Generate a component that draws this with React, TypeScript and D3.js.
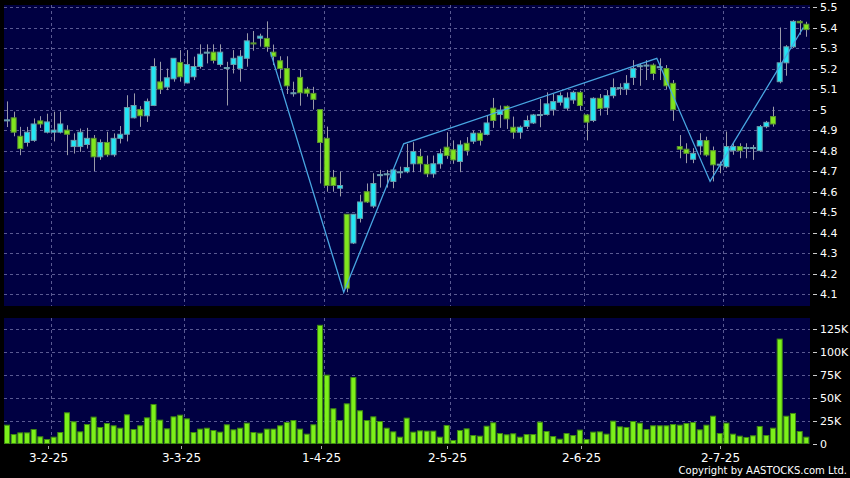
import React from "react";
import * as d3 from "d3";

// Trading days (HK) shown on the chart
const dates: string[] = [
  "2025-01-20","2025-01-21","2025-01-22","2025-01-23","2025-01-24","2025-01-27","2025-01-28",
  "2025-02-03","2025-02-04","2025-02-05","2025-02-06","2025-02-07","2025-02-10","2025-02-11","2025-02-12","2025-02-13","2025-02-14",
  "2025-02-17","2025-02-18","2025-02-19","2025-02-20","2025-02-21","2025-02-24","2025-02-25","2025-02-26","2025-02-27","2025-02-28",
  "2025-03-03","2025-03-04","2025-03-05","2025-03-06","2025-03-07","2025-03-10","2025-03-11","2025-03-12","2025-03-13","2025-03-14",
  "2025-03-17","2025-03-18","2025-03-19","2025-03-20","2025-03-21","2025-03-24","2025-03-25","2025-03-26","2025-03-27","2025-03-28","2025-03-31",
  "2025-04-01","2025-04-02","2025-04-03","2025-04-07","2025-04-08","2025-04-09","2025-04-10","2025-04-11","2025-04-14","2025-04-15","2025-04-16","2025-04-17",
  "2025-04-22","2025-04-23","2025-04-24","2025-04-25","2025-04-28","2025-04-29","2025-04-30",
  "2025-05-02","2025-05-06","2025-05-07","2025-05-08","2025-05-09","2025-05-12","2025-05-13","2025-05-14","2025-05-15","2025-05-16",
  "2025-05-19","2025-05-20","2025-05-21","2025-05-22","2025-05-23","2025-05-26","2025-05-27","2025-05-28","2025-05-29","2025-05-30",
  "2025-06-02","2025-06-03","2025-06-04","2025-06-05","2025-06-06","2025-06-09","2025-06-10","2025-06-11","2025-06-12","2025-06-13",
  "2025-06-16","2025-06-17","2025-06-18","2025-06-19","2025-06-20","2025-06-23","2025-06-24","2025-06-25","2025-06-26","2025-06-27","2025-06-30",
  "2025-07-02","2025-07-03","2025-07-04","2025-07-07","2025-07-08","2025-07-09","2025-07-10","2025-07-11","2025-07-14","2025-07-15","2025-07-16","2025-07-17","2025-07-18",
];

const open: number[] = [
  4.95,4.96,4.87,4.84,4.85,4.945,4.89,4.89,4.89,4.90,
  4.82,4.82,4.83,4.86,4.77,4.84,4.78,4.86,4.88,4.96,
  5.00,4.97,5.02,5.135,5.11,5.15,5.23,5.13,5.16,5.21,
  5.28,5.28,5.22,5.205,5.22,5.20,5.25,5.325,5.348,5.347,
  5.28,5.238,5.20,5.082,5.157,5.10,5.079,5.00,4.86,4.67,
  4.617,4.49,4.35,4.47,4.60,4.53,4.683,4.687,4.65,4.697,
  4.697,4.736,4.772,4.733,4.687,4.736,4.817,4.804,4.747,4.836,
  4.846,4.885,4.879,5.007,4.976,5.016,4.914,4.89,4.918,4.935,
  4.976,4.976,4.999,5.036,5.007,5.047,5.084,4.974,4.947,5.055,
  5.009,5.068,5.107,5.10,5.157,5.214,5.217,5.217,5.209,5.20,
  5.128,4.82,4.807,4.758,4.823,4.849,4.80,4.734,4.722,4.80,
  4.82,4.815,4.815,4.80,4.917,4.966,5.136,5.228,5.306,5.43,
  5.416,
];
const high: number[] = [
  5.04,4.99,4.916,4.916,4.957,4.968,4.98,4.99,4.99,4.924,
  4.884,4.908,4.911,4.876,4.855,4.892,4.884,4.92,5.07,5.079,
  5.017,5.054,5.25,5.233,5.20,5.25,5.29,5.29,5.258,5.318,
  5.318,5.318,5.318,5.233,5.29,5.29,5.372,5.383,5.37,5.43,
  5.317,5.26,5.26,5.136,5.193,5.111,5.111,5.00,4.917,4.706,
  4.698,4.49,4.49,4.585,4.64,4.69,4.706,4.706,4.715,4.722,
  4.833,4.841,4.809,4.776,4.776,4.809,4.89,4.85,4.85,4.866,
  4.898,4.898,4.971,5.057,5.02,5.02,4.966,4.922,4.971,4.979,
  5.052,5.084,5.076,5.084,5.084,5.092,5.092,4.979,5.06,5.076,
  5.095,5.152,5.128,5.168,5.241,5.225,5.241,5.225,5.25,5.217,
  5.144,4.876,4.836,4.812,4.885,4.868,4.82,4.747,4.893,4.836,
  4.836,4.836,4.828,4.925,4.945,5.014,5.40,5.314,5.436,5.436,
  5.428,
];
const low: number[] = [
  4.915,4.87,4.778,4.82,4.843,4.911,4.884,4.845,4.884,4.778,
  4.786,4.794,4.81,4.70,4.755,4.77,4.77,4.835,4.845,4.957,
  4.916,4.94,5.017,5.076,5.095,5.136,5.136,5.128,5.144,5.20,
  5.225,5.225,5.209,5.02,5.176,5.136,5.209,5.287,5.307,5.282,
  5.217,5.152,5.076,5.063,5.019,5.063,5.00,4.64,4.60,4.60,
  4.577,4.11,4.345,4.45,4.545,4.52,4.62,4.62,4.617,4.666,
  4.69,4.695,4.695,4.671,4.668,4.712,4.76,4.736,4.695,4.776,
  4.833,4.825,4.874,4.911,4.911,4.906,4.858,4.858,4.906,4.93,
  4.914,4.971,4.971,5.02,4.995,5.028,4.995,4.85,4.939,4.971,
  4.974,5.055,5.071,5.071,5.12,5.116,5.144,5.144,5.144,5.10,
  4.945,4.763,4.739,4.739,4.78,4.771,4.65,4.69,4.714,4.78,
  4.763,4.763,4.755,4.795,4.909,4.917,5.128,5.165,5.30,5.365,
  5.355,
];
const close: number[] = [
  4.95,4.89,4.81,4.89,4.93,4.93,4.94,4.90,4.93,4.88,
  4.85,4.89,4.86,4.77,4.84,4.78,4.86,4.88,5.01,5.02,
  4.97,5.04,5.21,5.10,5.155,5.25,5.16,5.22,5.21,5.27,
  5.28,5.24,5.28,5.205,5.25,5.26,5.335,5.32,5.358,5.306,
  5.26,5.20,5.116,5.082,5.082,5.08,5.05,4.84,4.63,4.63,
  4.63,4.13,4.49,4.55,4.55,4.64,4.683,4.687,4.706,4.697,
  4.718,4.796,4.736,4.687,4.736,4.785,4.776,4.755,4.828,4.80,
  4.885,4.85,4.935,4.947,4.998,4.955,4.89,4.914,4.947,4.974,
  4.976,5.028,5.039,5.068,5.057,5.084,5.02,4.939,5.055,5.006,
  5.068,5.107,5.107,5.128,5.20,5.214,5.217,5.176,5.209,5.116,
  5.00,4.807,4.787,4.787,4.849,4.779,4.731,4.734,4.82,4.82,
  4.80,4.815,4.815,4.917,4.938,4.93,5.228,5.306,5.43,5.423,
  5.39,
];
// Volume in thousands of shares
const volume: number[] = [
  20.0,9.8,11.6,11.6,15.3,7.3,4.4,6.9,12.0,33.5,
  23.7,12.7,20.7,28.8,17.5,21.8,19.3,16.7,31.3,15.3,
  19.3,28.0,42.6,25.5,16.0,29.1,30.9,26.9,12.0,15.7,
  16.7,14.2,12.4,20.4,14.9,16.7,22.2,12.0,11.3,15.7,
  15.7,19.3,22.9,25.1,15.7,10.2,20.4,129,74.6,37.9,
  25.1,43.3,72,35.7,25.1,29.1,24.0,16.7,12.7,6.9,
  27.7,12.4,13.8,13.5,13.5,6.9,19.7,3.3,14.2,16.0,
  8.7,8.0,18.9,22.6,10.9,9.5,10.6,6.9,9.8,9.8,
  23.3,13.1,7.6,4.7,10.9,8.7,14.6,4.4,12.4,12.7,
  10.2,24.4,18.2,17.5,24.0,22.2,15.3,19.3,19.3,19.3,
  20.7,20.0,21.8,22.9,14.9,20.0,29.8,10.9,22.2,10.2,
  8.0,6.6,8.4,18.6,8.7,16.7,114,29.8,32.8,13.1,
  6.9,
];

// Zig-zag swing points (date, price)
const zigDates: string[] = ["2025-03-20","2025-04-07","2025-04-22","2025-06-17","2025-06-27","2025-07-18"];
const zigValues: number[] = [5.28, 4.11, 4.833, 5.25, 4.65, 5.40];

const priceTicks: number[] = [4.1,4.2,4.3,4.4,4.5,4.6,4.7,4.8,4.9,5.0,5.1,5.2,5.3,5.4,5.5];
const priceTickLabels: string[] = ["4.1","4.2","4.3","4.4","4.5","4.6","4.7","4.8","4.9","5","5.1","5.2","5.3","5.4","5.5"];
const volTicks: number[] = [0, 25, 50, 75, 100, 125];
const volTickLabels: string[] = ["0","25K","50K","75K","100K","125K"];
const dateTicks: string[] = ["2025-02-03","2025-03-03","2025-04-01","2025-05-02","2025-06-02","2025-07-02"];

const W = 850, H = 478;
const PL = 4, PR = 810;
const pTop = 5, pBot = 306;
const vTop = 318, vBot = 444;

const BG = "#000042";
const GRID = "#5a5a92";
const UP = "#22e6f4";
const UP_STROKE = "#6a9cac";
const DOWN = "#80e61e";
const DOWN_STROKE = "#5c9630";
const WICK = "#9a9aa8";
const FONT = "'DejaVu Sans', Verdana, sans-serif";

export default function App() {
  const x = d3.scaleBand<string>().domain(dates).range([PL, PR]).paddingInner(0).paddingOuter(0);
  const step = x.bandwidth();
  const y = d3.scaleLinear().domain([4.1, 5.5]).range([294.3, 7]);
  const yv = d3.scaleLinear().domain([0, 125]).range([443.5, 329]);
  const parse = d3.timeParse("%Y-%m-%d");
  const fmt = d3.timeFormat("%-d-%-m-%y");

  const zig = d3
    .line<number>()
    .x((_, i) => x(zigDates[i])!)
    .y((v) => y(v));

  const bodyW = step - 1.66;

  return (
    <svg
      width={W}
      height={H}
      style={{ position: "fixed", left: 0, top: 0, display: "block" }}
    >
      <rect x={0} y={0} width={W} height={H} fill="#000" />
      {/* panels */}
      <rect x={PL} y={pTop} width={PR - PL} height={pBot - pTop} fill={BG} />
      <rect x={PL} y={vTop} width={PR - PL} height={vBot - vTop} fill={BG} />

      {/* horizontal grids */}
      {priceTicks.map((t) => (
        <line key={"pg" + t} x1={PL} x2={PR} y1={Math.round(y(t)) + 0.5} y2={Math.round(y(t)) + 0.5}
          stroke={GRID} strokeDasharray="3,3" />
      ))}
      {volTicks.filter((t) => t > 0).map((t) => (
        <line key={"vg" + t} x1={PL} x2={PR} y1={Math.round(yv(t)) + 0.5} y2={Math.round(yv(t)) + 0.5}
          stroke={GRID} strokeDasharray="3,3" />
      ))}
      {/* vertical grids */}
      {dateTicks.map((d) => {
        const gx = Math.round(x(d)!) + 0.5;
        return (
          <g key={"vx" + d}>
            <line x1={gx} x2={gx} y1={pTop} y2={pBot} stroke={GRID} strokeDasharray="3,3" />
            <line x1={gx} x2={gx} y1={vTop} y2={vBot} stroke={GRID} strokeDasharray="3,3" />
          </g>
        );
      })}

      {/* candles */}
      {dates.map((d, i) => {
        const x0 = x(d)!;
        const cx = Math.round(x0 + 3) + 0.5;
        const o = open[i], c = close[i];
        const up = c >= o;
        const yTop = y(Math.max(o, c));
        const yB = y(Math.min(o, c));
        const h = Math.max(1, yB - yTop);
        return (
          <g key={"c" + d}>
            <line x1={cx} x2={cx} y1={y(high[i])} y2={y(low[i])} stroke={WICK} strokeWidth={1} />
            <rect x={x0 + 0.5} y={yTop} width={bodyW} height={h}
              fill={up ? UP : DOWN} stroke={up ? UP_STROKE : DOWN_STROKE} strokeWidth={1} />
          </g>
        );
      })}

      {/* zig-zag */}
      <path d={zig(zigValues) || ""} fill="none" stroke="#48a6e2" strokeWidth={1.3} />

      {/* volume bars */}
      {dates.map((d, i) => {
        const x0 = x(d)!;
        const top = yv(volume[i]);
        return (
          <rect key={"v" + d} x={x0 + 0.5} y={top} width={bodyW} height={yv(0) - top}
            fill="#7cf01a" stroke="#3f8a12" strokeWidth={1} />
        );
      })}

      {/* price axis */}
      {priceTicks.map((t, i) => (
        <g key={"pl" + t}>
          <line x1={813} x2={817} y1={Math.round(y(t)) + 0.5} y2={Math.round(y(t)) + 0.5} stroke="#cccccc" />
          <text x={820} y={y(t) + 4} fill="#fff" fontSize={11} fontFamily={FONT}>{priceTickLabels[i]}</text>
        </g>
      ))}
      {/* volume axis */}
      {volTicks.map((t, i) => (
        <g key={"vl" + t}>
          <line x1={813} x2={817} y1={Math.round(yv(t)) + 0.5} y2={Math.round(yv(t)) + 0.5} stroke="#cccccc" />
          <text x={820} y={yv(t) + 4} fill="#fff" fontSize={11} fontFamily={FONT}>{volTickLabels[i]}</text>
        </g>
      ))}

      {/* date axis */}
      {dateTicks.map((d) => {
        const tx = Math.round(x(d)! - 3) + 0.5;
        return (
          <g key={"dl" + d}>
            <line x1={tx} x2={tx} y1={446} y2={449} stroke="#aaaaaa" />
            <text x={tx} y={462} fill="#fff" fontSize={12} fontFamily={FONT} textAnchor="middle">
              {fmt(parse(d)!)}
            </text>
          </g>
        );
      })}

      <text x={847} y={474} fill="#fff" fontSize={10} fontFamily={FONT} textAnchor="end">
        Copyright by AASTOCKS.com Ltd.
      </text>
    </svg>
  );
}
